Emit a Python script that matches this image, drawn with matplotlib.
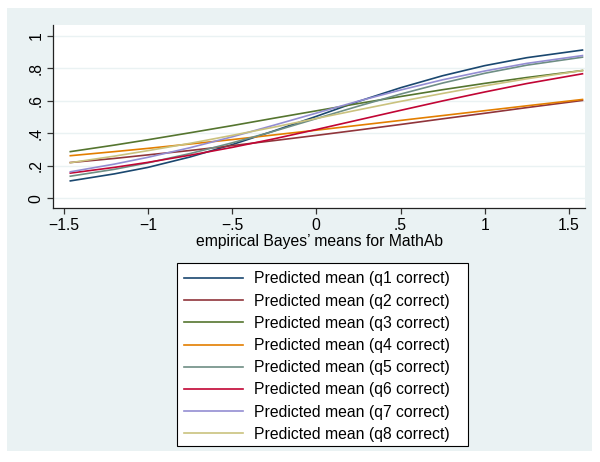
import matplotlib
matplotlib.use("Agg")
import matplotlib.pyplot as plt
from matplotlib.patches import Rectangle

plt.rcParams['font.family'] = ['Liberation Sans', 'DejaVu Sans']

# empirical Bayes' means (x) and predicted means
eb_means = [-1.46, -1.2, -1.0, -0.75, -0.5, -0.25, 0.0, 0.25, 0.5, 0.75, 1.0, 1.25, 1.58]

q1 = [0.107, 0.150, 0.190, 0.254, 0.330, 0.415, 0.504, 0.596, 0.680, 0.754, 0.816, 0.865, 0.912]
q2 = [0.220, 0.245, 0.267, 0.294, 0.324, 0.355, 0.387, 0.420, 0.454, 0.489, 0.523, 0.558, 0.602]
q3 = [0.287, 0.327, 0.360, 0.403, 0.447, 0.493, 0.538, 0.583, 0.626, 0.668, 0.707, 0.743, 0.786]
q4 = [0.262, 0.287, 0.307, 0.334, 0.361, 0.390, 0.419, 0.449, 0.479, 0.509, 0.539, 0.569, 0.608]
q5 = [0.136, 0.178, 0.218, 0.275, 0.341, 0.413, 0.490, 0.567, 0.641, 0.709, 0.769, 0.819, 0.868]
q6 = [0.155, 0.190, 0.221, 0.265, 0.313, 0.366, 0.423, 0.482, 0.541, 0.599, 0.654, 0.706, 0.766]
q7 = [0.163, 0.210, 0.252, 0.311, 0.378, 0.450, 0.524, 0.598, 0.666, 0.729, 0.783, 0.830, 0.878]
q8 = [0.219, 0.259, 0.293, 0.338, 0.387, 0.438, 0.491, 0.544, 0.596, 0.645, 0.692, 0.735, 0.786]

series = [q1, q2, q3, q4, q5, q6, q7, q8]
labels = ['Predicted mean (q%d correct)' % (i + 1) for i in range(8)]
# Stata s2color palette
colors = ['#1a476f', '#90353b', '#55752f', '#e37e00',
          '#6e8e84', '#c10534', '#938dd2', '#cac27e']

x_ticks = [-1.5, -1, -0.5, 0, 0.5, 1, 1.5]
x_ticklabels = ['\u22121.5', '\u22121', '\u2212.5', '0', '.5', '1', '1.5']
y_ticks = [0, 0.2, 0.4, 0.6, 0.8, 1]
y_ticklabels = ['0', '.2', '.4', '.6', '.8', '1']

W, H = 600, 462
fs = 11.3
fig = plt.figure(figsize=(W / 100, H / 100), dpi=100)
fig.patch.set_facecolor('white')

def fig_rect(x0, y0, x1, y1, **kw):
    ''' rectangle in pixel coords, origin at top-left '''
    return Rectangle((x0 / W, 1 - y1 / H), (x1 - x0) / W, (y1 - y0) / H,
                     transform=fig.transFigure, **kw)

# graph region background
bg = '#eaf2f3'
fig.patches.append(fig_rect(7, 8, 592, 451, facecolor=bg, edgecolor='none', zorder=-5))

# plot region in pixels: left, right, top, bottom
pl, pr, pt, pb = 53.3, 585, 25, 208.3
ax = fig.add_axes([pl / W, 1 - pb / H, (pr - pl) / W, (pb - pt) / H])
ax.set_zorder(1)
ax.set_facecolor('white')

for vals, c, lab in zip(series, colors, labels):
    ax.plot(eb_means, vals, color=c, lw=1.2, label=lab)

ax.set_xlim(-1.561, 1.595)
ax.set_ylim(-0.0615, 1.066)
ax.set_xticks(x_ticks)
ax.set_xticklabels(x_ticklabels)
ax.set_yticks(y_ticks)
ax.set_yticklabels(y_ticklabels, rotation=90, va='center')
ax.yaxis.grid(True, color=bg, lw=1.0)
ax.set_axisbelow(True)

for s in ['top', 'right']:
    ax.spines[s].set_visible(False)
for s in ['left', 'bottom']:
    ax.spines[s].set_color('#222222')
    ax.spines[s].set_linewidth(0.9)
ax.tick_params(axis='both', direction='out', length=4.5, width=0.9,
               color='#333333', labelsize=fs, labelcolor='black', pad=2.5)

ax.set_xlabel("empirical Bayes\u2019 means for MathAb", fontsize=fs, labelpad=1)

# legend frame drawn by hand so its size matches the original
fig.patches.append(fig_rect(176.7, 263, 467.7, 445.7, facecolor='white',
                            edgecolor='black', lw=0.8, zorder=2))
handles, names = ax.get_legend_handles_labels()
fig.legend(handles, names, loc='upper left', bbox_to_anchor=(176.7 / W, 1 - 264 / H),
           ncol=1, fontsize=fs, frameon=False, handlelength=3.75,
           handletextpad=0.68, labelspacing=0.46, borderpad=0.47, borderaxespad=0)

fig.savefig('out.png', dpi=100, facecolor=fig.get_facecolor())
